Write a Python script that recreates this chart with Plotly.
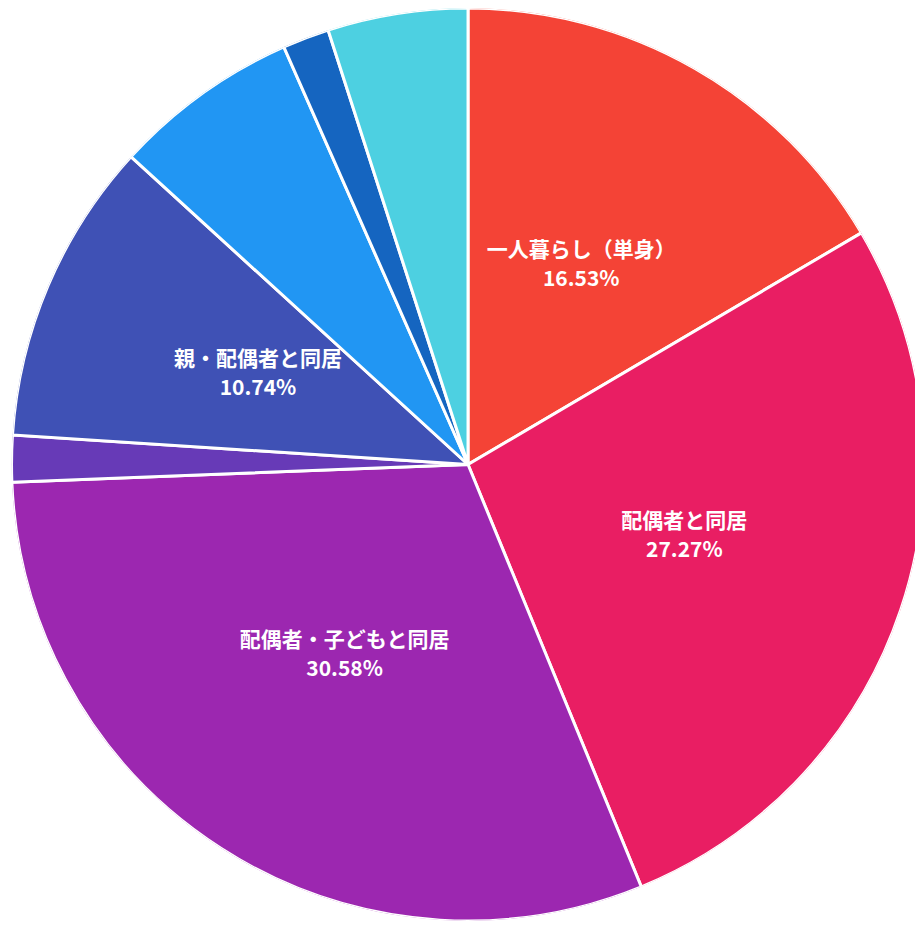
import plotly.graph_objects as go

labels = ["一人暮らし（単身）", "配偶者と同居", "配偶者・子どもと同居", "子どもと同居",
          "親・配偶者と同居", "親と同居", "その他の親族と同居", "その他"]
values = [20, 33, 37, 2, 13, 8, 2, 6]
shown = [True, True, True, False, True, False, False, False]
colors = ["#F44336", "#E91E63", "#9C27B0", "#673AB7",
          "#3F51B5", "#2196F3", "#1565C0", "#4DD0E1"]

total = sum(values)
widths = [v / total * 360 for v in values]
mids = []
acc = 0.0
for w in widths:
    mids.append(acc + w / 2)
    acc += w

pcts = [f"{v / total * 100:.2f}%" for v in values]
hover = [f"{l}<br>{p}" for l, p in zip(labels, pcts)]
lab_theta = [m for m, s in zip(mids, shown) if s]
lab_names = [l for l, s in zip(labels, shown) if s]
lab_pcts = [p for p, s in zip(pcts, shown) if s]

font = dict(family="Noto Sans CJK JP", size=21, color="white", weight="bold")
ghost = dict(size=5, color="rgba(0,0,0,0)")

fig = go.Figure()
fig.add_trace(go.Barpolar(
    r=[1] * len(values),
    theta=mids,
    width=widths,
    marker=dict(color=colors, line=dict(color="white", width=3)),
    customdata=hover,
    hovertemplate="%{customdata}<extra></extra>",
))
fig.add_trace(go.Scatterpolar(
    r=[0.5] * len(lab_theta),
    theta=lab_theta,
    mode="markers+text",
    marker=ghost,
    text=lab_names,
    textposition="top center",
    textfont=font,
    hoverinfo="skip",
))
fig.add_trace(go.Scatterpolar(
    r=[0.5] * len(lab_theta),
    theta=lab_theta,
    mode="markers+text",
    marker=ghost,
    text=lab_pcts,
    textposition="bottom center",
    textfont=font,
    hoverinfo="skip",
))

fig.update_layout(
    width=923, height=927,
    margin=dict(l=0, r=0, t=0, b=0),
    showlegend=False,
    paper_bgcolor="white",
    polar=dict(
        domain=dict(x=[0.0038, 0.993], y=[0.0151, 1.0]),
        bgcolor="rgba(0,0,0,0)",
        hole=0,
        radialaxis=dict(visible=False, range=[0, 1]),
        angularaxis=dict(visible=False, rotation=90, direction="clockwise",
                         thetaunit="degrees"),
        bargap=0,
    ),
)

fig.write_html("out.html")
